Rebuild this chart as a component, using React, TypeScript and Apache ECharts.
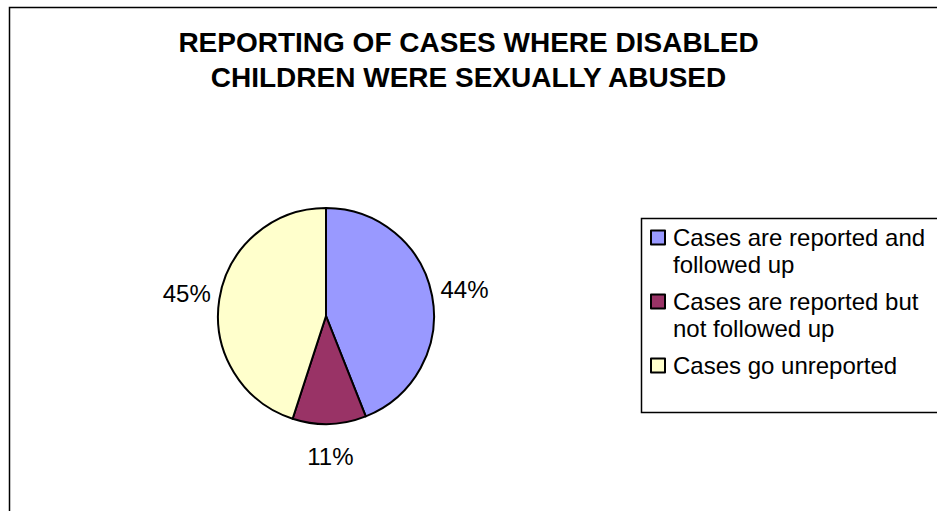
import React, { useEffect, useRef } from "react";
import * as echarts from "echarts";

const titleLines = ["REPORTING OF CASES WHERE DISABLED", "CHILDREN WERE SEXUALLY ABUSED"];
const categories = [
  "Cases are reported and followed up",
  "Cases are reported but not followed up",
  "Cases go unreported",
];
const legendLines = [
  ["Cases are reported and", "followed up"],
  ["Cases are reported but", "not followed up"],
  ["Cases go unreported", ""],
];
const percentValues = [44, 11, 45];
const sliceColors = ["#9999FF", "#993366", "#FFFFCC"];

const FONT = "'Liberation Sans', Arial, Helvetica, sans-serif";

export default function App() {
  const ref = useRef<HTMLDivElement>(null);
  useEffect(() => {
    if (!ref.current) return;
    const chart = echarts.init(ref.current, undefined, { renderer: "svg" });
    const data = categories.map((name, i) => ({
      name,
      value: percentValues[i],
      itemStyle: { color: sliceColors[i] },
    }));
    chart.setOption({
      animation: false,
      backgroundColor: "#ffffff",
      title: {
        text: titleLines.join("\n"),
        left: "center",
        top: 20,
        padding: [5, 0, 5, 0],
        textStyle: {
          fontFamily: FONT,
          fontSize: 28,
          fontWeight: "bold",
          lineHeight: 35,
          color: "#000",
        },
      },
      legend: {
        orient: "vertical",
        left: 650,
        top: 197,
        padding: 0,
        itemGap: -17,
        itemWidth: 14,
        itemHeight: 14,
        icon: "rect",
        selectedMode: false,
        itemStyle: { borderColor: "#000", borderWidth: 2 },
        data: categories,
        formatter: (name: string) => {
          const l = legendLines[categories.indexOf(name)];
          return "\n" + l[0] + "\n" + l[1];
        },
        textStyle: {
          fontFamily: FONT,
          fontSize: 24,
          lineHeight: 27,
          color: "#000",
          padding: [0, 0, 0, 3],
        },
      },
      graphic: [
        {
          type: "rect",
          silent: true,
          shape: { x: 9.5, y: 7.5, width: 1000, height: 1000 },
          style: { fill: "none", stroke: "#000", lineWidth: 1.5 },
        },
        {
          type: "rect",
          silent: true,
          shape: { x: 641.5, y: 218.5, width: 400, height: 194 },
          style: { fill: "none", stroke: "#000", lineWidth: 1.5 },
        },
      ],
      series: [
        {
          type: "pie",
          center: [326, 316],
          radius: 108,
          startAngle: 90,
          clockwise: true,
          avoidLabelOverlap: false,
          label: { show: false },
          labelLine: { show: false },
          itemStyle: { borderColor: "#000", borderWidth: 2 },
          emphasis: { disabled: true },
          data,
        },
        {
          type: "pie",
          center: [326, 316],
          radius: [108, 168],
          startAngle: 90,
          clockwise: true,
          silent: true,
          avoidLabelOverlap: false,
          itemStyle: { color: "rgba(0,0,0,0)", borderWidth: 0 },
          emphasis: { disabled: true },
          label: {
            show: true,
            position: "inside",
            color: "#000",
            fontFamily: FONT,
            fontSize: 24,
            formatter: (p: any) => `${p.value}%`,
          },
          labelLine: { show: false },
          data: categories.map((name, i) => ({ name, value: percentValues[i] })),
        },
      ],
    });
    return () => chart.dispose();
  }, []);
  return (
    <div
      ref={ref}
      style={{ position: "absolute", left: 0, top: 0, width: 937, height: 511 }}
    />
  );
}
